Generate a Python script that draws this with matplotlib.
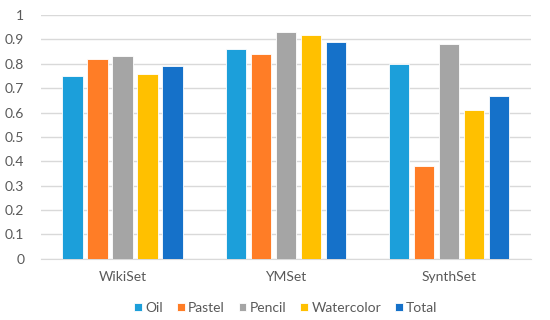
import matplotlib.pyplot as plt
import numpy as np

groups = ["WikiSet", "YMSet", "SynthSet"]
series = ["Oil", "Pastel", "Pencil", "Watercolor", "Total"]
oil = [0.75, 0.86, 0.80]
pastel = [0.82, 0.84, 0.38]
pencil = [0.83, 0.93, 0.88]
watercolor = [0.76, 0.92, 0.61]
total = [0.79, 0.89, 0.67]
colors = ["#1C9FDA", "#FF7D26", "#A5A5A5", "#FFC000", "#1571C9"]

plt.rcParams['font.family'] = ['Lato', 'DejaVu Sans']

fig = plt.figure(figsize=(5.5, 3.2), dpi=100)
ax = fig.add_axes([0.0745, 0.191, 0.8905, 0.762])

x = np.arange(len(groups))
step = 0.153
width = 0.125
vals = [oil, pastel, pencil, watercolor, total]
for i, (name, v) in enumerate(zip(series, vals)):
    ax.bar(x + (i - 2) * step, v, width, color=colors[i], label=name,
           edgecolor="white", linewidth=0.6, zorder=3)

ax.set_xlim(-0.5, 2.5)
ax.set_ylim(0, 1)
ax.set_yticks(np.arange(0, 1.01, 0.1))
ax.set_yticklabels(["0", "0.1", "0.2", "0.3", "0.4", "0.5", "0.6", "0.7", "0.8", "0.9", "1"])
ax.set_xticks(x)
ax.set_xticklabels(groups)
ax.grid(axis="y", color="#D9D9D9", linewidth=1, zorder=0)
for s in ["top", "right", "left"]:
    ax.spines[s].set_visible(False)
ax.spines["bottom"].set_color("#D9D9D9")
ax.tick_params(axis="both", length=0, colors="#595959", labelsize=10)
ax.tick_params(axis="x", pad=9)
ax.tick_params(axis="y", pad=12)

ax.legend(loc="center", bbox_to_anchor=(0.5, -0.2), ncol=5, frameon=False,
          fontsize=10, labelcolor="#595959", handlelength=0.55, handleheight=0.55,
          handletextpad=0.25, columnspacing=1.0)

fig.savefig("out.png", dpi=100)
